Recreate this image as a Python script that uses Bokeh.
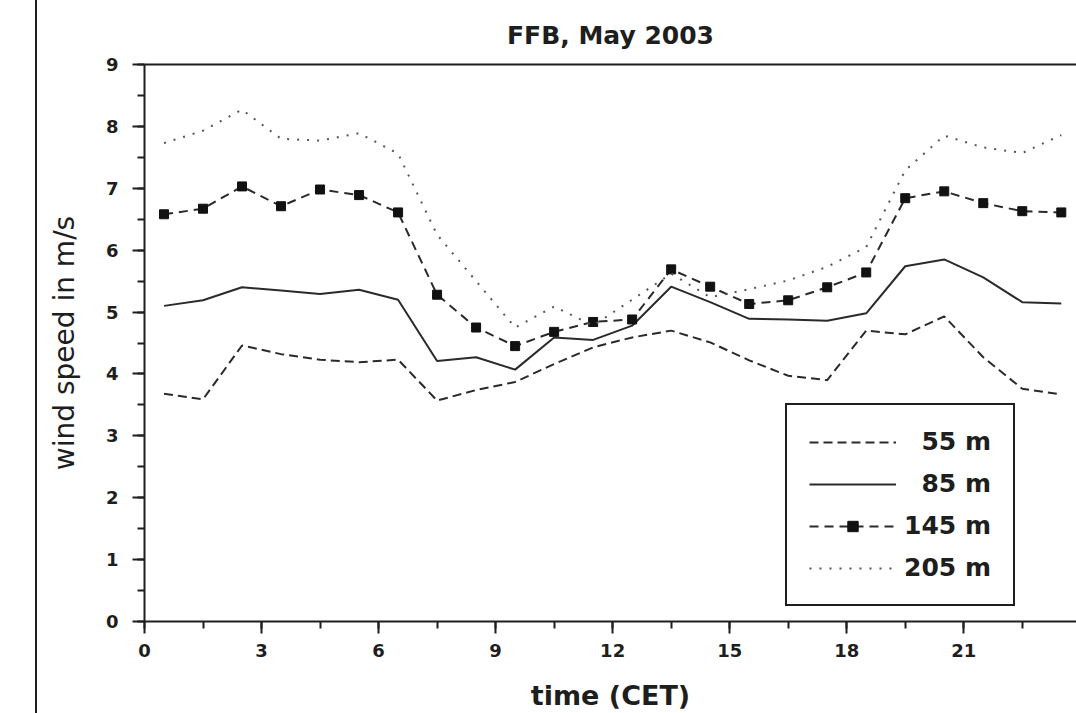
from bokeh.plotting import figure
from bokeh.models import (Range1d, SingleIntervalTicker, LinearAxis, FixedTicker,
                          Legend, LegendItem, Div)
from bokeh.layouts import row
from bokeh.embed import file_html
from bokeh.resources import INLINE

# ---- data ----
hours = [0.5, 1.5, 2.5, 3.5, 4.5, 5.5, 6.5, 7.5, 8.5, 9.5, 10.5, 11.5,
         12.5, 13.5, 14.5, 15.5, 16.5, 17.5, 18.5, 19.5, 20.5, 21.5, 22.5, 23.5]
ws_55 = [3.68, 3.59, 4.46, 4.32, 4.23, 4.19, 4.23, 3.57, 3.74, 3.87, 4.16, 4.43,
         4.59, 4.70, 4.51, 4.22, 3.97, 3.90, 4.70, 4.64, 4.93, 4.27, 3.76, 3.67]
ws_85 = [5.10, 5.19, 5.40, 5.35, 5.29, 5.36, 5.20, 4.21, 4.27, 4.07, 4.59, 4.55,
         4.78, 5.41, 5.16, 4.89, 4.88, 4.86, 4.98, 5.74, 5.85, 5.56, 5.16, 5.14]
ws_145 = [6.58, 6.67, 7.03, 6.71, 6.98, 6.89, 6.61, 5.28, 4.75, 4.45, 4.68, 4.84,
          4.88, 5.69, 5.41, 5.13, 5.19, 5.40, 5.64, 6.84, 6.95, 6.76, 6.63, 6.61]
ws_205 = [7.73, 7.93, 8.27, 7.80, 7.77, 7.89, 7.56, 6.25, 5.50, 4.75, 5.09, 4.78,
          5.20, 5.62, 5.24, 5.37, 5.51, 5.73, 6.05, 7.29, 7.85, 7.66, 7.57, 7.86]
series_labels = ["55 m", "85 m", "145 m", "205 m"]

FONT = "DejaVu Sans"
INK = "#1e1e1e"

p = figure(width=1039, height=713,
           x_range=Range1d(0, 23.89), y_range=Range1d(0, 9),
           output_backend="svg", toolbar_location=None,
           min_border_left=107, min_border_right=0,
           min_border_top=64, min_border_bottom=92,
           title="FFB, May 2003", margin=0)
p.outline_line_color = None
p.grid.visible = False
p.background_fill_color = "white"
p.border_fill_color = "white"

p.title.text_font = FONT
p.title.text_font_size = "25px"
p.title.text_font_style = "bold"
p.title.text_color = INK
p.title.align = "center"
p.title.offset = 0
p.title.standoff = 29

# axes
p.xaxis.ticker = SingleIntervalTicker(interval=3, num_minor_ticks=2)
p.yaxis.ticker = SingleIntervalTicker(interval=1, num_minor_ticks=2)
for ax in (p.xaxis[0], p.yaxis[0]):
    ax.axis_line_width = 2
    ax.axis_line_color = INK
    ax.major_tick_line_width = 2
    ax.major_tick_line_color = INK
    ax.minor_tick_line_width = 2
    ax.minor_tick_line_color = INK
    ax.major_tick_in = 0
    ax.major_tick_out = 12
    ax.minor_tick_in = 0
    ax.minor_tick_out = 7
    ax.major_label_text_font = FONT
    ax.major_label_text_font_size = "18px"
    ax.major_label_text_font_style = "bold"
    ax.major_label_text_color = INK
    ax.axis_label_text_font = FONT
    ax.axis_label_text_color = INK

p.xaxis.axis_label = "time (CET)"
p.xaxis.axis_label_text_font_size = "27px"
p.xaxis.axis_label_text_font_style = "bold"
p.xaxis.major_label_standoff = 10
p.xaxis.axis_label_standoff = 20

p.yaxis.axis_label = "wind speed in m/s"
p.yaxis.axis_label_text_font_size = "28px"
p.yaxis.axis_label_text_font_style = "normal"
p.yaxis.major_label_standoff = 14
p.yaxis.axis_label_standoff = 22

# top frame line (plain axis without ticks/labels)
top = LinearAxis(ticker=FixedTicker(ticks=[]), axis_line_width=2, axis_line_color=INK,
                 major_tick_line_color=None, minor_tick_line_color=None,
                 major_label_text_font_size="0px")
p.add_layout(top, "above")

# series
l55 = p.line(hours, ws_55, line_color="#2a2a2a", line_width=2, line_dash="9 5")
l85 = p.line(hours, ws_85, line_color="#2a2a2a", line_width=2)
l145 = p.line(hours, ws_145, line_color="#2a2a2a", line_width=2, line_dash="9 6")
m145 = p.scatter(hours, ws_145, marker="square", size=9, color="#111111")
l205 = p.line(hours, ws_205, line_color="#555555", line_width=2, line_dash="2 8")

legend = Legend(items=[
    LegendItem(label="\u2007" + series_labels[0], renderers=[l55]),
    LegendItem(label="\u2007" + series_labels[1], renderers=[l85]),
    LegendItem(label=series_labels[2], renderers=[l145, m145]),
    LegendItem(label=series_labels[3], renderers=[l205]),
], location=(641, 15))
legend.label_text_font = FONT
legend.label_text_font_size = "25px"
legend.label_text_font_style = "bold"
legend.label_text_color = INK
legend.glyph_width = 87
legend.glyph_height = 26
legend.label_height = 26
legend.label_standoff = 8
legend.spacing = 13
legend.padding = 22
legend.margin = 0
legend.border_line_color = INK
legend.border_line_width = 2
legend.border_line_alpha = 1
legend.background_fill_color = "white"
legend.background_fill_alpha = 1
p.add_layout(legend)

# vertical rule at the far left of the picture
left_rule = Div(width=37, height=713, margin=0,
                styles={"border-right": "2px solid #1e1e1e", "box-sizing": "border-box"})

layout = row(left_rule, p, margin=0)
open("out.html", "w").write(file_html(layout, INLINE))
